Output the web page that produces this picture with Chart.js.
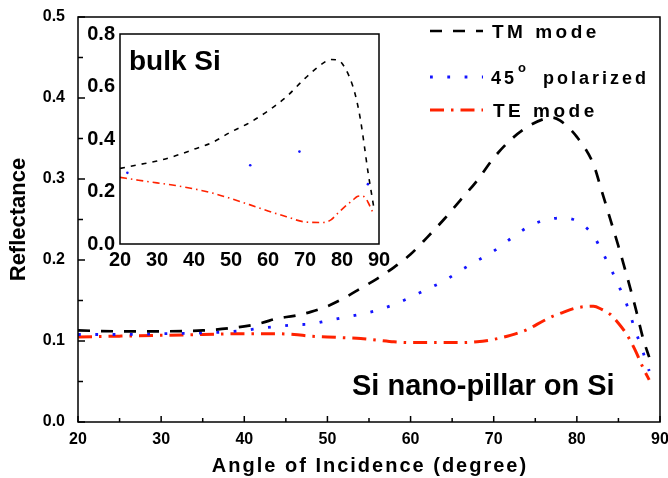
<!DOCTYPE html>
<html lang="en">
<head>
<meta charset="UTF-8">
<title>Reflectance vs angle of incidence</title>
<script src="https://cdn.jsdelivr.net/npm/chart.js"></script>
<style>
  body { margin: 0; background: #fff; }
  #wrap { position: relative; width: 668px; height: 478px; }
  #wrap canvas { position: absolute; left: 0; top: 0; }
</style>
</head>
<body>
<div id="wrap">
  <canvas id="mainChart" width="668" height="478"></canvas>
  <canvas id="insetChart" width="668" height="478"></canvas>
</div>
<script>
  // main plot: Si nano-pillar on Si
  const angles = [20, 25, 30, 35, 40, 42, 44, 46, 48, 50, 52, 54, 56, 58, 60, 62, 64, 66, 68, 70,
                  72, 74, 76, 77, 78, 80, 82, 83, 84, 85, 86, 87, 88, 88.7];
  const tmMode = [0.113, 0.112, 0.112, 0.113, 0.118, 0.122, 0.128, 0.131, 0.136, 0.143, 0.153, 0.165,
                  0.177, 0.191, 0.207, 0.228, 0.250, 0.274, 0.298, 0.326, 0.348, 0.364, 0.374, 0.376,
                  0.372, 0.352, 0.318, 0.285, 0.251, 0.217, 0.181, 0.143, 0.102, 0.080];
  const pol45 = [0.108, 0.108, 0.109, 0.110, 0.113, 0.116, 0.118, 0.120, 0.121, 0.125, 0.129, 0.133,
                 0.138, 0.145, 0.154, 0.164, 0.174, 0.187, 0.199, 0.211, 0.226, 0.240, 0.249, 0.251,
                 0.252, 0.248, 0.230, 0.211, 0.191, 0.169, 0.145, 0.114, 0.085, 0.063];
  const teMode = [0.105, 0.106, 0.107, 0.108, 0.109, 0.109, 0.109, 0.108, 0.106, 0.105, 0.104, 0.103,
                  0.101, 0.099, 0.098, 0.098, 0.098, 0.098, 0.099, 0.102, 0.107, 0.114, 0.125, 0.130,
                  0.134, 0.141, 0.143, 0.139, 0.133, 0.122, 0.108, 0.089, 0.066, 0.052];

  // inset: bulk Si
  const insetAngles = [20, 25, 30, 35, 40, 45, 50, 55, 60, 65, 70, 75, 77, 79, 81, 83, 84, 85, 86, 87, 88, 88.7];
  const insetTM = [0.288, 0.302, 0.316, 0.336, 0.361, 0.387, 0.427, 0.462, 0.507, 0.561, 0.631, 0.690,
                   0.703, 0.700, 0.666, 0.598, 0.545, 0.473, 0.378, 0.277, 0.190, 0.130];
  const insetTE = [0.254, 0.243, 0.233, 0.223, 0.210, 0.194, 0.173, 0.150, 0.126, 0.104, 0.084, 0.082,
                   0.092, 0.119, 0.145, 0.168, 0.180, 0.183, 0.180, 0.160, 0.130, 0.110];
  const insetDotAngles = [22, 55.2, 68.5, 87];
  const inset45 = [0.271, 0.300, 0.352, 0.228];

  // ticks
  const xTicks = [20, 30, 40, 50, 60, 70, 80, 90];
  const xMinor = [25, 35, 45, 55, 65, 75, 85];
  const yTicks = [0, 0.1, 0.2, 0.3, 0.4, 0.5];
  const yMinor = [0.05, 0.15, 0.25, 0.35, 0.45];
  const insetYTicks = [0, 0.2, 0.4, 0.6, 0.8];

  const FONT = "'Liberation Sans', Arial, sans-serif";
  Chart.defaults.font.family = FONT;
  Chart.defaults.color = '#000';

  const toXY = (xs, ys) => xs.map((x, i) => ({ x: x, y: ys[i] }));
  const fixedTicks = list => scale => { scale.ticks = list.map(v => ({ value: v })); };
  // fixed axis band, no extra room for label overhang
  const fixSize = (w, h) => s => {
    if (w) s.width = w;
    if (h) s.height = h;
    s.paddingLeft = s.paddingRight = s.paddingTop = s.paddingBottom = 0;
  };

  const axisMarks = {
    id: 'axisMarks',
    afterDraw(chart) {
      const { ctx, chartArea: a, scales: { x, y } } = chart;
      ctx.save();
      ctx.strokeStyle = '#000';
      ctx.lineWidth = 1.5;
      ctx.strokeRect(a.left, a.top, a.right - a.left, a.bottom - a.top);
      ctx.beginPath();
      xTicks.forEach(v => { const p = x.getPixelForValue(v); ctx.moveTo(p, a.bottom); ctx.lineTo(p, a.bottom - 6); });
      xMinor.forEach(v => { const p = x.getPixelForValue(v); ctx.moveTo(p, a.bottom); ctx.lineTo(p, a.bottom - 4); });
      yTicks.forEach(v => { const p = y.getPixelForValue(v); ctx.moveTo(a.left, p); ctx.lineTo(a.left + 7, p); });
      yMinor.forEach(v => { const p = y.getPixelForValue(v); ctx.moveTo(a.left, p); ctx.lineTo(a.left + 5, p); });
      ctx.stroke();
      ctx.restore();
    }
  };

  const notes = {
    id: 'notes',
    afterDraw(chart) {
      const { ctx, chartArea: a } = chart;
      ctx.save();
      // legend samples taken from the dataset styles
      const rows = [31, 77, 110];
      chart.data.datasets.forEach((ds, i) => {
        ctx.beginPath();
        ctx.strokeStyle = ds.borderColor;
        ctx.lineWidth = ds.borderWidth;
        ctx.setLineDash(ds.borderDash);
        ctx.moveTo(430, rows[i]);
        ctx.lineTo(483, rows[i]);
        ctx.stroke();
      });
      ctx.setLineDash([]);
      ctx.fillStyle = '#000';
      ctx.textBaseline = 'alphabetic';
      ctx.font = 'bold 19px ' + FONT;
      ctx.letterSpacing = '3.5px';
      ctx.fillText('TM mode', 492, 38);
      ctx.fillText('TE mode', 493, 117);
      ctx.font = 'bold 18px ' + FONT;
      ctx.letterSpacing = '3px';
      ctx.fillText('45', 491, 84);
      ctx.fillText('polarized', 543, 84);
      ctx.font = 'bold 13px ' + FONT;
      ctx.letterSpacing = '0px';
      ctx.fillText('o', 518, 72);
      // x axis title
      ctx.font = 'bold 20px ' + FONT;
      ctx.letterSpacing = '2px';
      ctx.textAlign = 'center';
      ctx.fillText('Angle of Incidence (degree)', (a.left + a.right) / 2 + 1, 472);
      ctx.letterSpacing = '0px';
      ctx.textAlign = 'left';
      ctx.font = 'bold 29px ' + FONT;
      ctx.fillText('Si nano-pillar on Si', 352, 395);
      ctx.restore();
    }
  };

  new Chart(document.getElementById('mainChart'), {
    type: 'line',
    data: {
      datasets: [
        { label: 'TM mode', data: toXY(angles, tmMode), borderColor: '#000000', borderWidth: 2.7, borderDash: [12, 11] },
        { label: '45° polarized', data: toXY(angles, pol45), borderColor: '#1414ff', borderWidth: 2.8, borderDash: [2.8, 14.5] },
        { label: 'TE mode', data: toXY(angles, teMode), borderColor: '#ff2200', borderWidth: 3, borderDash: [14, 7, 2.5, 7] }
      ]
    },
    options: {
      responsive: false,
      animation: false,
      devicePixelRatio: 1,
      layout: { padding: { left: 0, right: 8, top: 17, bottom: 0 } },
      elements: { point: { radius: 0 }, line: { cubicInterpolationMode: 'monotone' } },
      plugins: { legend: { display: false }, tooltip: { enabled: false } },
      scales: {
        x: {
          type: 'linear', min: 20, max: 90,
          afterBuildTicks: fixedTicks(xTicks),
          afterFit: fixSize(0, 56),
          grid: { display: false, drawTicks: false },
          border: { display: false },
          ticks: { padding: 8, maxRotation: 0, autoSkip: false, font: { size: 16, weight: 'bold' } }
        },
        y: {
          min: 0, max: 0.5,
          afterBuildTicks: fixedTicks(yTicks),
          afterFit: fixSize(78, 0),
          grid: { display: false, drawTicks: false },
          border: { display: false },
          ticks: { padding: 13, font: { size: 16, weight: 'bold' }, callback: v => v.toFixed(1) },
          title: { display: true, text: 'Reflectance', font: { size: 22, weight: 'bold' }, padding: { top: 6 } }
        }
      }
    },
    plugins: [axisMarks, notes]
  });

  const insetBox = {
    id: 'insetBox',
    beforeDatasetsDraw(chart) {
      const { ctx, chartArea: a } = chart;
      ctx.save();
      ctx.fillStyle = '#fff';
      ctx.fillRect(a.left, a.top, a.right - a.left, a.bottom - a.top);
      ctx.restore();
    },
    afterDraw(chart) {
      const { ctx, chartArea: a } = chart;
      ctx.save();
      ctx.strokeStyle = '#000';
      ctx.lineWidth = 1.5;
      ctx.strokeRect(a.left, a.top, a.right - a.left, a.bottom - a.top);
      ctx.fillStyle = '#000';
      ctx.font = 'bold 28px ' + FONT;
      ctx.fillText('bulk Si', a.left + 9, a.top + 36);
      ctx.restore();
    }
  };

  new Chart(document.getElementById('insetChart'), {
    type: 'line',
    data: {
      datasets: [
        { label: 'TM mode', data: toXY(insetAngles, insetTM), borderColor: '#000000', borderWidth: 1.6, borderDash: [5, 6] },
        { label: '45° polarized', data: toXY(insetDotAngles, inset45), showLine: false, pointRadius: 1.3,
          pointBorderWidth: 0, pointBackgroundColor: '#1414ff', borderColor: '#1414ff' },
        { label: 'TE mode', data: toXY(insetAngles, insetTE), borderColor: '#ff2200', borderWidth: 1.6, borderDash: [7, 4, 1.5, 4] }
      ]
    },
    options: {
      responsive: false,
      animation: false,
      devicePixelRatio: 1,
      layout: { padding: { left: 80, right: 289, top: 34, bottom: 204 } },
      elements: { point: { radius: 0 }, line: { cubicInterpolationMode: 'monotone' } },
      plugins: { legend: { display: false }, tooltip: { enabled: false } },
      scales: {
        x: {
          type: 'linear', min: 20, max: 90,
          afterBuildTicks: fixedTicks(xTicks),
          afterFit: fixSize(0, 30),
          grid: { display: false, drawTicks: false },
          border: { display: false },
          ticks: { padding: 4, maxRotation: 0, autoSkip: false, font: { size: 20, weight: 'bold' } }
        },
        y: {
          min: 0, max: 0.8,
          afterBuildTicks: fixedTicks(insetYTicks),
          afterFit: fixSize(40, 0),
          grid: { display: false, drawTicks: false },
          border: { display: false },
          ticks: { padding: 5, font: { size: 20, weight: 'bold' }, callback: v => v.toFixed(1) }
        }
      }
    },
    plugins: [insetBox]
  });
</script>
</body>
</html>
